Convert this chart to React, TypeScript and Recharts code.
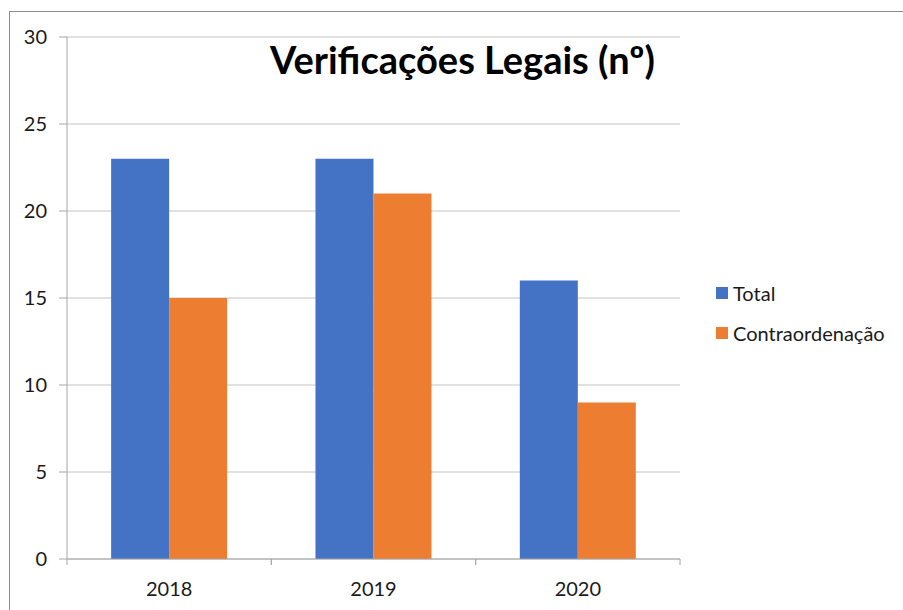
import { BarChart, Bar, XAxis, YAxis, CartesianGrid } from "recharts";

const years = ["2018", "2019", "2020"];
const total = [23, 23, 16];
const contraordenacao = [15, 21, 9];
const yTicks = [0, 5, 10, 15, 20, 25, 30];

const BLUE = "#4472C4";
const ORANGE = "#ED7D31";
const AXIS = "#a6a6a6";
const FONT = "Lato, 'Open Sans', sans-serif";
const X_TICK_SIZE = 6;
const X_TICK_MARGIN = 17;

const data = years.map((year, i) => ({
  year,
  total: total[i],
  contraordenacao: contraordenacao[i],
}));

const legendItems = [
  { label: "Total", color: BLUE },
  { label: "Contraordenação", color: ORANGE },
];

// category label plus tick marks at the band edges, like Excel
function YearTick(props: any) {
  const { x, y, payload } = props;
  const half = payload.offset ?? 0;
  const axisY = y - X_TICK_SIZE - X_TICK_MARGIN;
  return (
    <g>
      <line x1={x - half} x2={x - half} y1={axisY} y2={axisY + X_TICK_SIZE} stroke={AXIS} />
      <line x1={x + half} x2={x + half} y1={axisY} y2={axisY + X_TICK_SIZE} stroke={AXIS} />
      <text
        x={x}
        y={y}
        dy="0.71em"
        textAnchor="middle"
        fill="#1a1a1a"
        fontSize={20}
        fontFamily={FONT}
      >
        {payload.value}
      </text>
    </g>
  );
}

function ChartLegend() {
  return (
    <div
      style={{
        position: "absolute",
        left: 716,
        top: 273,
        fontFamily: FONT,
        fontSize: 20,
        color: "#1a1a1a",
      }}
    >
      {legendItems.map((item) => (
        <div
          key={item.label}
          style={{ display: "flex", alignItems: "center", height: 40 }}
        >
          <span
            style={{
              width: 12,
              height: 12,
              background: item.color,
              marginRight: 5,
              display: "inline-block",
            }}
          />
          {item.label}
        </div>
      ))}
    </div>
  );
}

export default function App() {
  return (
    <div
      style={{
        position: "absolute",
        left: 0,
        top: 0,
        width: 903,
        height: 610,
        overflow: "hidden",
        background: "#fff",
      }}
    >
      <div
        style={{
          position: "absolute",
          left: 9,
          top: 11,
          width: 1000,
          height: 700,
          borderLeft: "1px solid #8c8c8c",
          borderTop: "1px solid #8c8c8c",
        }}
      />
      <BarChart
        width={903}
        height={610}
        data={data}
        margin={{ top: 37, right: 223, bottom: 21, left: 7 }}
        barCategoryGap="21.6%"
        barGap={0}
        style={{ position: "absolute", left: 0, top: 0 }}
      >
        <CartesianGrid vertical={false} stroke="#c4c4c4" />
        <XAxis
          dataKey="year"
          height={30}
          tickLine={false}
          tickSize={X_TICK_SIZE}
          tickMargin={X_TICK_MARGIN}
          axisLine={{ stroke: AXIS }}
          tick={<YearTick />}
        />
        <YAxis
          width={60}
          domain={[0, 30]}
          ticks={yTicks}
          interval={0}
          tickSize={8}
          tickMargin={12}
          axisLine={{ stroke: AXIS }}
          tickLine={{ stroke: AXIS }}
          tick={{ fill: "#1a1a1a", fontSize: 20, fontFamily: FONT }}
        />
        <Bar
          dataKey="total"
          name="Total"
          fill={BLUE}
          isAnimationActive={false}
        />
        <Bar
          dataKey="contraordenacao"
          name="Contraordenação"
          fill={ORANGE}
          isAnimationActive={false}
        />
      </BarChart>
      <ChartLegend />
      <div
        style={{
          position: "absolute",
          left: 0,
          top: 35,
          width: 925,
          textAlign: "center",
          fontFamily: FONT,
          fontWeight: "bold",
          fontSize: 38,
          color: "#000",
          lineHeight: "48px",
          pointerEvents: "none",
        }}
      >
        Verificações Legais (nº)
      </div>
    </div>
  );
}
